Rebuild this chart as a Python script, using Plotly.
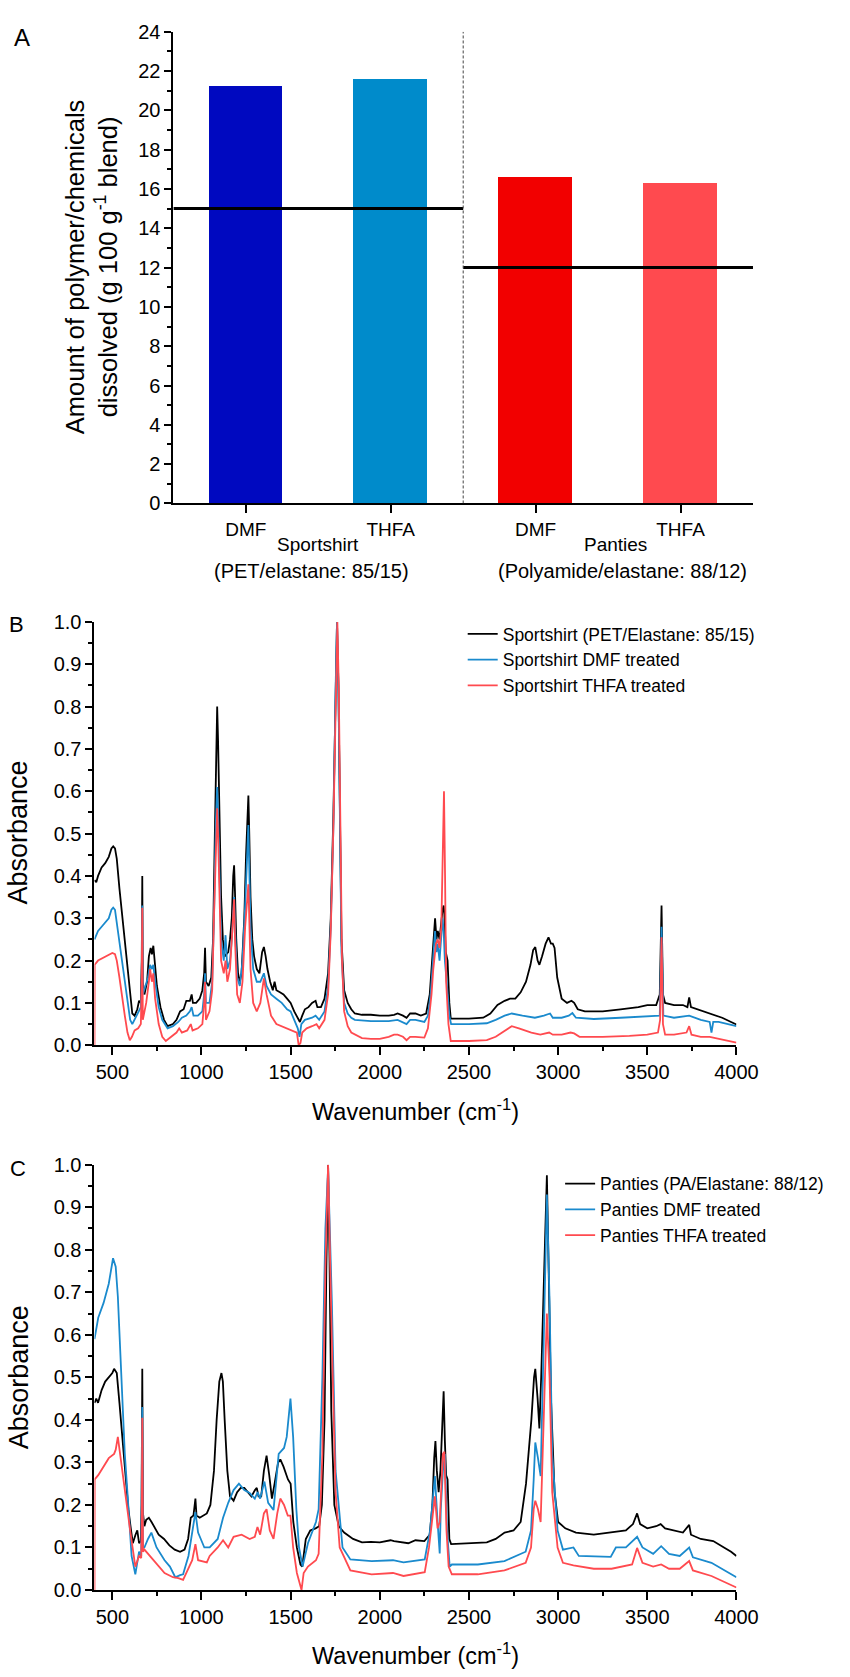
import plotly.graph_objects as go

# ---------------- Panel A data ----------------
a_categories = ["DMF", "THFA", "DMF", "THFA"]
a_values = [21.25, 21.62, 16.63, 16.33]
a_colors = ["#0009C0", "#008BCB", "#F20000", "#FF4A4F"]
a_groups = ["Sportshirt", "Panties"]
a_group_sub = ["(PET/elastane: 85/15)", "(Polyamide/elastane: 88/12)"]
a_elastane = [15, 12]

# ---------------- Panel B data (wavenumber, absorbance) ----------------
b_black = [(400,0.39),(410,0.385),(420,0.40),(440,0.42),(460,0.43),(480,0.445),(495,0.465),(505,0.47),(515,0.465),(525,0.44),(540,0.37),(555,0.31),(570,0.25),(585,0.19),(600,0.12),(612,0.075),(625,0.07),(640,0.085),(650,0.105),(660,0.10),(665,0.20),(668,0.40),(671,0.15),(680,0.12),(695,0.15),(705,0.21),(715,0.23),(722,0.215),(730,0.235),(738,0.20),(750,0.14),(770,0.09),(790,0.06),(810,0.045),(840,0.05),(860,0.06),(880,0.08),(900,0.085),(915,0.105),(935,0.105),(945,0.12),(952,0.10),(970,0.10),(990,0.11),(1005,0.13),(1015,0.17),(1020,0.23),(1025,0.15),(1040,0.14),(1055,0.16),(1065,0.25),(1075,0.50),(1083,0.75),(1088,0.80),(1093,0.72),(1100,0.55),(1110,0.35),(1120,0.25),(1130,0.21),(1140,0.215),(1150,0.22),(1160,0.25),(1170,0.30),(1178,0.40),(1183,0.425),(1188,0.36),(1195,0.25),(1205,0.17),(1215,0.15),(1225,0.17),(1240,0.30),(1250,0.45),(1258,0.56),(1263,0.59),(1268,0.50),(1275,0.35),(1285,0.25),(1295,0.21),(1310,0.18),(1325,0.17),(1340,0.22),(1350,0.232),(1360,0.21),(1370,0.18),(1385,0.15),(1400,0.13),(1410,0.15),(1420,0.13),(1440,0.125),(1460,0.12),(1480,0.11),(1500,0.10),(1520,0.08),(1540,0.065),(1552,0.055),(1565,0.07),(1580,0.085),(1600,0.09),(1620,0.10),(1640,0.105),(1650,0.09),(1670,0.09),(1690,0.11),(1710,0.17),(1725,0.30),(1740,0.55),(1752,0.85),(1760,1.0),(1768,0.85),(1775,0.55),(1785,0.25),(1800,0.13),(1820,0.10),(1840,0.085),(1860,0.075),(1900,0.072),(1950,0.072),(2000,0.07),(2050,0.07),(2080,0.072),(2100,0.075),(2130,0.07),(2150,0.065),(2170,0.075),(2200,0.075),(2230,0.07),(2260,0.075),(2280,0.12),(2295,0.22),(2305,0.28),(2310,0.30),(2318,0.25),(2325,0.27),(2335,0.25),(2345,0.30),(2352,0.32),(2358,0.33),(2362,0.31),(2370,0.22),(2380,0.20),(2390,0.10),(2398,0.063),(2500,0.063),(2580,0.065),(2620,0.075),(2660,0.095),(2700,0.105),(2730,0.11),(2760,0.11),(2790,0.125),(2820,0.15),(2845,0.19),(2860,0.225),(2872,0.232),(2885,0.20),(2895,0.19),(2910,0.21),(2930,0.24),(2946,0.255),(2960,0.24),(2970,0.24),(2980,0.23),(2995,0.16),(3020,0.11),(3050,0.10),(3075,0.105),(3090,0.10),(3110,0.085),(3150,0.08),(3250,0.08),(3350,0.085),(3450,0.09),(3500,0.095),(3550,0.095),(3570,0.12),(3580,0.33),(3588,0.12),(3600,0.10),(3650,0.095),(3700,0.095),(3725,0.09),(3735,0.113),(3745,0.09),(3780,0.085),(3850,0.075),(3920,0.065),(3970,0.055),(4000,0.049)]

b_blue = [(400,0.25),(420,0.27),(440,0.28),(460,0.29),(480,0.30),(495,0.32),(505,0.325),(515,0.32),(525,0.29),(540,0.24),(555,0.19),(570,0.15),(585,0.10),(600,0.06),(612,0.05),(625,0.06),(645,0.075),(660,0.09),(665,0.15),(668,0.33),(671,0.12),(685,0.14),(700,0.16),(712,0.19),(722,0.18),(730,0.19),(740,0.15),(760,0.09),(780,0.06),(810,0.04),(840,0.045),(870,0.055),(890,0.065),(915,0.07),(935,0.08),(945,0.09),(955,0.07),(980,0.07),(1005,0.08),(1015,0.12),(1020,0.17),(1025,0.10),(1045,0.10),(1060,0.15),(1070,0.30),(1080,0.52),(1088,0.61),(1093,0.55),(1100,0.40),(1110,0.25),(1125,0.20),(1135,0.26),(1145,0.18),(1160,0.20),(1170,0.25),(1178,0.32),(1183,0.35),(1188,0.28),(1200,0.16),(1215,0.14),(1230,0.20),(1245,0.33),(1258,0.48),(1263,0.52),(1268,0.42),(1275,0.28),(1290,0.18),(1310,0.15),(1330,0.15),(1350,0.17),(1365,0.14),(1390,0.12),(1420,0.11),(1450,0.10),(1480,0.085),(1500,0.08),(1520,0.06),(1540,0.04),(1550,0.02),(1560,0.05),(1580,0.06),(1620,0.065),(1640,0.07),(1660,0.06),(1690,0.08),(1710,0.14),(1725,0.28),(1740,0.52),(1752,0.84),(1760,1.0),(1768,0.84),(1775,0.52),(1785,0.22),(1800,0.10),(1820,0.075),(1840,0.065),(1860,0.06),(1950,0.057),(2050,0.057),(2100,0.06),(2150,0.05),(2170,0.06),(2200,0.06),(2250,0.055),(2270,0.07),(2285,0.12),(2300,0.22),(2310,0.27),(2318,0.22),(2325,0.24),(2335,0.20),(2345,0.26),(2352,0.30),(2358,0.27),(2365,0.20),(2375,0.15),(2390,0.07),(2400,0.05),(2500,0.05),(2600,0.052),(2650,0.06),(2700,0.07),(2740,0.075),(2800,0.07),(2870,0.065),(2920,0.07),(2955,0.075),(2970,0.065),(3020,0.065),(3060,0.07),(3080,0.076),(3100,0.065),(3200,0.062),(3350,0.065),(3500,0.068),(3570,0.07),(3580,0.28),(3590,0.07),(3650,0.065),(3735,0.07),(3800,0.06),(3850,0.055),(3860,0.03),(3870,0.055),(3900,0.055),(3950,0.05),(4000,0.045)]

b_red = [(400,0.0),(401,0.19),(420,0.20),(440,0.205),(460,0.21),(480,0.215),(500,0.218),(515,0.215),(525,0.20),(540,0.16),(555,0.11),(570,0.07),(585,0.03),(598,0.012),(610,0.02),(625,0.035),(645,0.04),(660,0.05),(665,0.15),(668,0.325),(671,0.06),(690,0.10),(705,0.15),(712,0.18),(722,0.15),(730,0.17),(740,0.11),(760,0.05),(780,0.02),(800,0.01),(830,0.02),(860,0.03),(875,0.04),(890,0.03),(920,0.035),(940,0.05),(950,0.035),(980,0.04),(1005,0.05),(1015,0.10),(1020,0.15),(1025,0.06),(1045,0.08),(1060,0.13),(1070,0.30),(1080,0.48),(1088,0.56),(1093,0.50),(1100,0.35),(1110,0.20),(1125,0.17),(1135,0.20),(1145,0.15),(1160,0.18),(1170,0.25),(1178,0.32),(1183,0.345),(1188,0.25),(1200,0.12),(1215,0.10),(1230,0.15),(1245,0.28),(1258,0.36),(1263,0.38),(1268,0.30),(1275,0.18),(1290,0.10),(1310,0.08),(1330,0.10),(1350,0.158),(1365,0.12),(1390,0.07),(1420,0.05),(1450,0.045),(1480,0.04),(1510,0.035),(1535,0.03),(1545,0.0),(1555,0.005),(1565,0.03),(1590,0.04),(1620,0.045),(1645,0.05),(1660,0.04),(1690,0.06),(1710,0.12),(1725,0.27),(1740,0.52),(1752,0.84),(1762,1.0),(1770,0.84),(1778,0.50),(1788,0.20),(1800,0.08),(1820,0.045),(1840,0.03),(1860,0.025),(1900,0.017),(1950,0.015),(2000,0.015),(2050,0.02),(2080,0.025),(2100,0.025),(2130,0.02),(2150,0.012),(2170,0.02),(2200,0.02),(2250,0.018),(2270,0.04),(2290,0.12),(2300,0.18),(2309,0.22),(2315,0.24),(2325,0.25),(2335,0.23),(2345,0.28),(2352,0.45),(2360,0.60),(2366,0.40),(2372,0.15),(2385,0.05),(2398,0.01),(2500,0.01),(2600,0.012),(2650,0.02),(2700,0.035),(2740,0.045),(2780,0.04),(2850,0.03),(2900,0.025),(2950,0.03),(2970,0.025),(3020,0.025),(3070,0.03),(3090,0.028),(3120,0.02),(3250,0.02),(3400,0.022),(3500,0.025),(3560,0.03),(3572,0.06),(3580,0.255),(3588,0.05),(3600,0.025),(3650,0.025),(3720,0.03),(3735,0.045),(3748,0.025),(3800,0.02),(3850,0.02),(3900,0.015),(3950,0.01),(4000,0.006)]

# ---------------- Panel C data ----------------
c_black = [(400,0.44),(410,0.45),(420,0.44),(440,0.47),(460,0.49),(480,0.50),(500,0.51),(510,0.52),(525,0.51),(540,0.44),(555,0.36),(575,0.27),(590,0.19),(605,0.14),(615,0.11),(630,0.13),(640,0.14),(650,0.11),(660,0.115),(664,0.20),(668,0.52),(672,0.18),(680,0.15),(690,0.165),(705,0.17),(720,0.16),(740,0.145),(760,0.13),(790,0.12),(820,0.105),(850,0.095),(880,0.09),(905,0.095),(925,0.12),(940,0.17),(955,0.175),(966,0.215),(972,0.175),(990,0.17),(1010,0.175),(1030,0.18),(1050,0.20),(1070,0.28),(1085,0.40),(1100,0.49),(1112,0.51),(1120,0.49),(1130,0.40),(1145,0.28),(1160,0.22),(1180,0.21),(1200,0.23),(1220,0.24),(1240,0.24),(1260,0.23),(1280,0.22),(1300,0.235),(1310,0.24),(1320,0.22),(1335,0.22),(1350,0.28),(1365,0.316),(1380,0.27),(1395,0.215),(1410,0.25),(1430,0.30),(1442,0.307),(1460,0.29),(1485,0.26),(1500,0.25),(1515,0.16),(1535,0.10),(1555,0.06),(1565,0.055),(1585,0.12),(1610,0.14),(1640,0.145),(1660,0.15),(1675,0.20),(1690,0.40),(1700,0.75),(1710,1.0),(1718,0.78),(1728,0.42),(1745,0.20),(1770,0.15),(1800,0.135),(1850,0.12),(1900,0.112),(1950,0.113),(2000,0.112),(2060,0.117),(2080,0.115),(2120,0.112),(2160,0.11),(2200,0.117),(2250,0.115),(2280,0.13),(2295,0.20),(2305,0.31),(2312,0.35),(2320,0.28),(2330,0.23),(2340,0.28),(2350,0.38),(2358,0.467),(2365,0.35),(2372,0.27),(2380,0.26),(2390,0.12),(2400,0.108),(2500,0.11),(2600,0.112),(2650,0.12),(2700,0.135),(2750,0.14),(2790,0.16),(2820,0.25),(2850,0.40),(2865,0.50),(2872,0.52),(2885,0.45),(2895,0.38),(2905,0.50),(2920,0.75),(2937,0.975),(2945,0.80),(2960,0.45),(2980,0.23),(3000,0.16),(3040,0.145),(3100,0.135),(3200,0.13),(3300,0.135),(3380,0.14),(3420,0.155),(3443,0.18),(3460,0.155),(3500,0.145),(3550,0.15),(3575,0.155),(3600,0.145),(3650,0.14),(3700,0.135),(3735,0.153),(3745,0.13),(3800,0.12),(3870,0.115),(3930,0.10),(3970,0.09),(4000,0.08)]

c_blue = [(400,0.59),(421,0.64),(451,0.675),(480,0.72),(504,0.78),(519,0.76),(531,0.69),(549,0.50),(570,0.32),(591,0.19),(608,0.08),(629,0.037),(650,0.09),(662,0.08),(665,0.20),(668,0.43),(672,0.10),(680,0.10),(700,0.12),(719,0.135),(748,0.10),(793,0.07),(823,0.055),(853,0.03),(880,0.035),(897,0.037),(927,0.08),(948,0.135),(966,0.183),(981,0.135),(1016,0.10),(1046,0.10),(1091,0.12),(1121,0.17),(1150,0.205),(1180,0.235),(1210,0.25),(1240,0.235),(1270,0.228),(1299,0.215),(1315,0.23),(1329,0.215),(1353,0.255),(1374,0.205),(1404,0.188),(1433,0.32),(1463,0.334),(1478,0.36),(1499,0.45),(1514,0.36),(1532,0.19),(1547,0.10),(1567,0.055),(1597,0.11),(1642,0.16),(1657,0.19),(1678,0.50),(1695,0.85),(1710,0.99),(1731,0.68),(1752,0.28),(1791,0.10),(1835,0.072),(1954,0.068),(2074,0.07),(2133,0.065),(2252,0.072),(2282,0.14),(2297,0.205),(2309,0.268),(2324,0.16),(2336,0.086),(2342,0.19),(2354,0.28),(2365,0.32),(2377,0.14),(2392,0.055),(2404,0.06),(2550,0.06),(2699,0.068),(2818,0.09),(2848,0.14),(2863,0.26),(2872,0.347),(2887,0.31),(2902,0.268),(2919,0.58),(2937,0.93),(2952,0.68),(2967,0.32),(2997,0.14),(3027,0.095),(3086,0.10),(3116,0.08),(3295,0.078),(3324,0.10),(3380,0.10),(3443,0.125),(3473,0.10),(3533,0.085),(3578,0.103),(3622,0.085),(3682,0.08),(3735,0.10),(3756,0.077),(3860,0.064),(4000,0.03)]

c_red = [(400,0.0),(401,0.26),(421,0.27),(451,0.29),(480,0.31),(510,0.32),(519,0.33),(531,0.36),(549,0.30),(570,0.23),(600,0.14),(629,0.055),(650,0.08),(662,0.075),(665,0.15),(668,0.405),(672,0.09),(680,0.095),(710,0.08),(748,0.06),(793,0.04),(840,0.03),(870,0.028),(897,0.024),(927,0.05),(948,0.07),(966,0.108),(981,0.07),(1030,0.065),(1046,0.08),(1091,0.10),(1121,0.117),(1150,0.10),(1180,0.125),(1225,0.13),(1270,0.12),(1299,0.125),(1314,0.148),(1329,0.13),(1350,0.18),(1365,0.19),(1383,0.14),(1404,0.12),(1425,0.18),(1442,0.215),(1463,0.20),(1484,0.175),(1499,0.175),(1514,0.10),(1535,0.04),(1561,0.0),(1573,0.04),(1597,0.055),(1642,0.07),(1657,0.085),(1678,0.32),(1695,0.76),(1710,1.0),(1731,0.59),(1752,0.23),(1775,0.10),(1835,0.046),(1954,0.037),(2074,0.04),(2133,0.033),(2252,0.042),(2276,0.10),(2297,0.18),(2309,0.22),(2324,0.145),(2336,0.16),(2354,0.32),(2362,0.325),(2374,0.14),(2386,0.055),(2404,0.037),(2550,0.037),(2699,0.046),(2818,0.064),(2848,0.10),(2863,0.19),(2872,0.21),(2887,0.19),(2902,0.16),(2919,0.41),(2937,0.65),(2952,0.50),(2967,0.23),(2997,0.10),(3027,0.064),(3086,0.058),(3200,0.05),(3300,0.05),(3415,0.06),(3443,0.099),(3473,0.064),(3533,0.055),(3578,0.06),(3622,0.05),(3682,0.05),(3735,0.068),(3756,0.046),(3860,0.033),(4000,0.006)]

b_names = ["Sportshirt (PET/Elastane: 85/15)", "Sportshirt DMF treated", "Sportshirt THFA treated"]
c_names = ["Panties (PA/Elastane: 88/12)", "Panties DMF treated", "Panties THFA treated"]
line_colors = ["#000000", "#1A8ACD", "#FF4A4F"]

# ---------------- styling ----------------
W, H = 850, 1677
ARIAL = "Liberation Sans, Arial, sans-serif"

def px_x(p):
    return p / W

def px_y(p):
    return (H - p) / H

fig = go.Figure()

# Panel A bars
fig.add_trace(go.Bar(x=list(range(len(a_values))), y=a_values, marker_color=a_colors,
                     marker_line_width=0, width=0.51, xaxis="x", yaxis="y", showlegend=False))
# elastane content lines
fig.add_trace(go.Scatter(x=[-0.5, 1.5], y=[a_elastane[0]] * 2, mode="lines",
                         line=dict(color="black", width=3), xaxis="x", yaxis="y", showlegend=False))
fig.add_trace(go.Scatter(x=[1.5, 3.5], y=[a_elastane[1]] * 2, mode="lines",
                         line=dict(color="black", width=3), xaxis="x", yaxis="y", showlegend=False))

# Panel B spectra
for data, name, col in zip([b_black, b_blue, b_red], b_names, line_colors):
    fig.add_trace(go.Scatter(x=[p[0] for p in data], y=[p[1] for p in data], mode="lines", name=name,
                             line=dict(color=col, width=1.8), xaxis="x2", yaxis="y2", legend="legend"))
# Panel C spectra
for data, name, col in zip([c_black, c_blue, c_red], c_names, line_colors):
    fig.add_trace(go.Scatter(x=[p[0] for p in data], y=[p[1] for p in data], mode="lines", name=name,
                             line=dict(color=col, width=1.8), xaxis="x3", yaxis="y3", legend="legend2"))

axis_common = dict(showline=True, linecolor="black", linewidth=2, ticks="outside", tickcolor="black",
                   tickwidth=1.5, showgrid=False, zeroline=False, mirror=False)

tick_font = dict(family=ARIAL, size=20, color="black")
minor_y = dict(ticks="outside", ticklen=4, tickcolor="black", tickwidth=1.5)

fig.update_layout(
    width=W, height=H, margin=dict(l=0, r=0, t=0, b=0),
    paper_bgcolor="white", plot_bgcolor="white",
    font=dict(family=ARIAL, color="black"),
    bargap=0,
    xaxis=dict(domain=[px_x(178), px_x(773)], range=[-0.5, 3.5], tickvals=[0, 1, 2, 3],
               ticktext=a_categories, ticklen=8, tickfont=dict(family=ARIAL, size=19, color="black"),
               anchor="y", **axis_common),
    yaxis=dict(domain=[px_y(499), px_y(21)], range=[0, 24], dtick=2, ticklen=7,
               tickfont=tick_font, anchor="x", minor=dict(dtick=1, **minor_y), **axis_common),
    xaxis2=dict(domain=[px_x(97), px_x(756)], range=[400, 4000], tick0=500, dtick=500, ticklen=8,
                tickfont=tick_font, anchor="y2", minor=dict(tick0=250, dtick=250, **minor_y), **axis_common),
    yaxis2=dict(domain=[px_y(1048), px_y(619)], range=[0, 1.0], dtick=0.1, tickformat=".1f", ticklen=7,
                tickfont=tick_font, anchor="x2", minor=dict(dtick=0.05, **minor_y), **axis_common),
    xaxis3=dict(domain=[px_x(97), px_x(756)], range=[400, 4000], tick0=500, dtick=500, ticklen=8,
                tickfont=tick_font, anchor="y3", minor=dict(tick0=250, dtick=250, **minor_y), **axis_common),
    yaxis3=dict(domain=[px_y(1600), px_y(1169)], range=[0, 1.0], dtick=0.1, tickformat=".1f", ticklen=7,
                tickfont=tick_font, anchor="x3", minor=dict(dtick=0.05, **minor_y), **axis_common),
    legend=dict(x=px_x(475), y=px_y(613), xanchor="left", yanchor="top", bgcolor="rgba(0,0,0,0)",
                font=dict(family=ARIAL, size=17.5, color="black"), borderwidth=0, tracegroupgap=0),
    legend2=dict(x=px_x(575), y=px_y(1170), xanchor="left", yanchor="top", bgcolor="rgba(0,0,0,0)",
                 font=dict(family=ARIAL, size=17.5, color="black"), borderwidth=0, tracegroupgap=0),
)

# divider in panel A
fig.add_shape(type="line", xref="x", yref="y", x0=1.5, x1=1.5, y0=0, y1=24,
              line=dict(color="#444444", width=1, dash="3px,2px"))

ann = []
# panel letters
ann.append(dict(text="A", x=px_x(23), y=px_y(27), font=dict(family=ARIAL, size=24)))
ann.append(dict(text="B", x=px_x(17), y=px_y(622), font=dict(family=ARIAL, size=22)))
ann.append(dict(text="C", x=px_x(18), y=px_y(1173), font=dict(family=ARIAL, size=22)))
# panel A y title
ann.append(dict(text="Amount of polymer/chemicals<br>dissolved (g 100 g<sup>-1</sup> blend)",
                x=px_x(94), y=px_y(260), textangle=-90, font=dict(family=ARIAL, size=25.5)))
# group labels
for gx, g in zip([0.5, 2.55], a_groups):
    ann.append(dict(text=g, x=gx, xref="x", y=px_y(541), font=dict(family=ARIAL, size=19)))
for gx, sub in zip([0.45, 2.6], a_group_sub):
    ann.append(dict(text=sub, x=gx, xref="x", y=px_y(567), font=dict(family=ARIAL, size=20)))
# B/C axis titles
ann.append(dict(text="Absorbance", x=px_x(19), y=px_y(833), textangle=-90, font=dict(family=ARIAL, size=27)))
ann.append(dict(text="Absorbance", x=px_x(19), y=px_y(1385), textangle=-90, font=dict(family=ARIAL, size=27)))
ann.append(dict(text="Wavenumber (cm<sup>-1</sup>)", x=px_x(427), y=px_y(1114), font=dict(family=ARIAL, size=23.5)))
ann.append(dict(text="Wavenumber (cm<sup>-1</sup>)", x=px_x(427), y=px_y(1665), font=dict(family=ARIAL, size=23.5)))

for a in ann:
    a.setdefault("xref", "paper")
    a.setdefault("yref", "paper")
    a["showarrow"] = False
    a["xanchor"] = "center"
    a["yanchor"] = "middle"
    a["font"]["color"] = "black"
fig.update_layout(annotations=ann)

fig.write_html("out.html")
